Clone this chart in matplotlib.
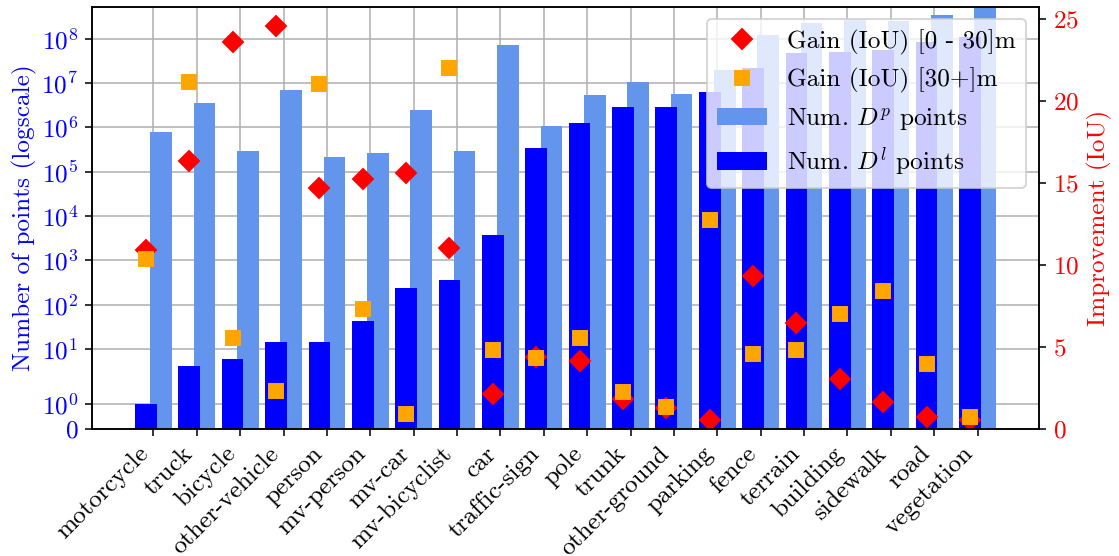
import numpy as np
import matplotlib
matplotlib.use('Agg')
import matplotlib.pyplot as plt
from matplotlib.ticker import NullLocator

plt.rcParams.update({
    'font.family': 'serif',
    'font.serif': ['cmr10', 'DejaVu Serif'],
    'mathtext.fontset': 'cm',
    'axes.formatter.use_mathtext': True,
    'axes.unicode_minus': False,
    'font.size': 13,
})

categories = ['motorcycle', 'truck', 'bicycle', 'other-vehicle', 'person',
              'mv-person', 'mv-car', 'mv-bicyclist', 'car', 'traffic-sign',
              'pole', 'trunk', 'other-ground', 'parking', 'fence', 'terrain',
              'building', 'sidewalk', 'road', 'vegetation']

# number of points per class
num_dp = [7.7e5, 3.5e6, 2.9e5, 6.9e6, 2.1e5, 2.7e5, 2.46e6, 2.9e5, 7.2e7, 1.07e6,
          5.4e6, 1.05e7, 5.6e6, 2.0e7, 1.2e8, 2.3e8, 2.6e8, 2.5e8, 3.4e8, 6.0e8]
num_dl = [1, 4, 6, 14, 14, 43, 237, 360, 3720, 3.4e5,
          1.25e6, 2.88e6, 2.88e6, 6.3e6, 2.18e7, 4.75e7, 5.1e7, 5.6e7, 8.5e7, 1.1e8]

# IoU gain per range
gain_near = [10.9, 16.33, 23.6, 24.53, 14.68, 15.25, 15.57, 11.05, 2.12, 4.40,
             4.15, 1.81, 1.31, 0.57, 9.31, 6.45, 3.02, 1.63, 0.75, 0.57]
gain_far = [10.34, 21.13, 5.56, 2.32, 21.03, 7.29, 0.94, 22.0, 4.79, 4.34,
            5.52, 2.26, 1.33, 12.74, 4.56, 4.82, 7.0, 8.41, 3.95, 0.76]

x = np.arange(len(categories))
w = 0.5
off = 0.175

fig = plt.figure(figsize=(1119/140., 556/140.), dpi=140)
ax1 = fig.add_axes([0.0822, 0.2284, 0.8463, 0.7596])
ax1.set_axisbelow(True)

b1 = ax1.bar(x + off, num_dp, width=w, color='cornflowerblue', label=r'Num. $D^p$ points')
b2 = ax1.bar(x - off, num_dl, width=w, color='blue', label=r'Num. $D^l$ points')
ax1.set_yscale('symlog')
ax1.yaxis.set_minor_locator(NullLocator())
ax1.set_ylim(0, 5.3e8)
ax1.set_ylabel('Number of points (logscale)', color='blue', labelpad=2)
ax1.tick_params(axis='y', labelcolor='blue')
ax1.grid(True, color='#b0b0b0')
ax1.set_xticks(x)
ax1.set_xticklabels(categories, rotation=45, ha='right')

ax2 = ax1.twinx()
l1, = ax2.plot(x - off, gain_near, 'D', color='red', ms=7, label='Gain (IoU) [0 - 30]m')
l2, = ax2.plot(x - off, gain_far, 's', color='orange', ms=7, label='Gain (IoU) [30+]m')
ax2.set_ylim(bottom=0)
ax2.set_ylabel('Improvement (IoU)', color='red')
ax2.tick_params(axis='y', labelcolor='red')

ax2.legend(handles=[l1, l2, b1, b2], loc='upper right')

fig.savefig('out.png', dpi=140)
